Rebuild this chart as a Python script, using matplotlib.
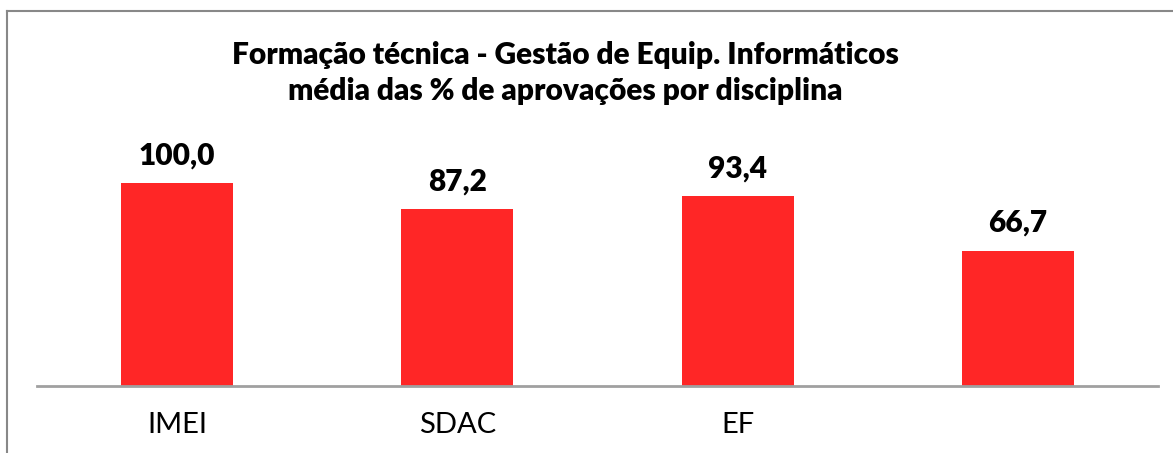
import matplotlib
matplotlib.use('Agg')
import matplotlib.pyplot as plt
from matplotlib.lines import Line2D

# data
disciplinas = ['IMEI', 'SDAC', 'EF', '']
medias = [100.0, 87.2, 93.4, 66.7]
titulo = 'Formação técnica - Gestão de Equip. Informáticos\nmédia das % de aprovações por disciplina'

W, H = 1173, 453
plt.rcParams['font.family'] = ['Lato', 'DejaVu Sans']

fig = plt.figure(figsize=(W / 100, H / 100), dpi=100)
# axes placed in pixels: x 37..1158, baseline at y=386 (from top)
ax = fig.add_axes([37 / W, (H - 386) / H, (1158 - 37) / W, 286 / H])

x = range(len(medias))
bars = ax.bar(x, medias, width=0.4, color='#ff2626', zorder=2)
ax.set_xlim(-0.5, len(medias) - 0.5)
ax.set_ylim(0, 100 * 286 / 203)

for b, v in zip(bars, medias):
    ax.annotate(f'{v:.1f}'.replace('.', ','), (b.get_x() + b.get_width() / 2, v),
                xytext=(0, 10), textcoords='offset points', ha='center', va='bottom',
                fontsize=21.5, fontweight='heavy')

ax.set_xticks(list(x))
ax.set_xticklabels(disciplinas, fontsize=21)
ax.tick_params(axis='x', length=0, pad=19)
ax.set_yticks([])
for s in ['left', 'right', 'top']:
    ax.spines[s].set_visible(False)
ax.spines['bottom'].set_color('#a0a0a0')
ax.spines['bottom'].set_linewidth(2)

fig.text(565 / W, 1 - 73 / H, titulo, ha='center', va='center', fontsize=21.5,
         fontweight='heavy', linespacing=1.32)

# chart border (left and top edges visible)
fig.add_artist(Line2D([7 / W, 7 / W], [0, 1 - 11 / H], color='#888888', lw=1.5))
fig.add_artist(Line2D([7 / W, 1], [1 - 11 / H, 1 - 11 / H], color='#888888', lw=1.5))

fig.savefig('out.png', dpi=100)
